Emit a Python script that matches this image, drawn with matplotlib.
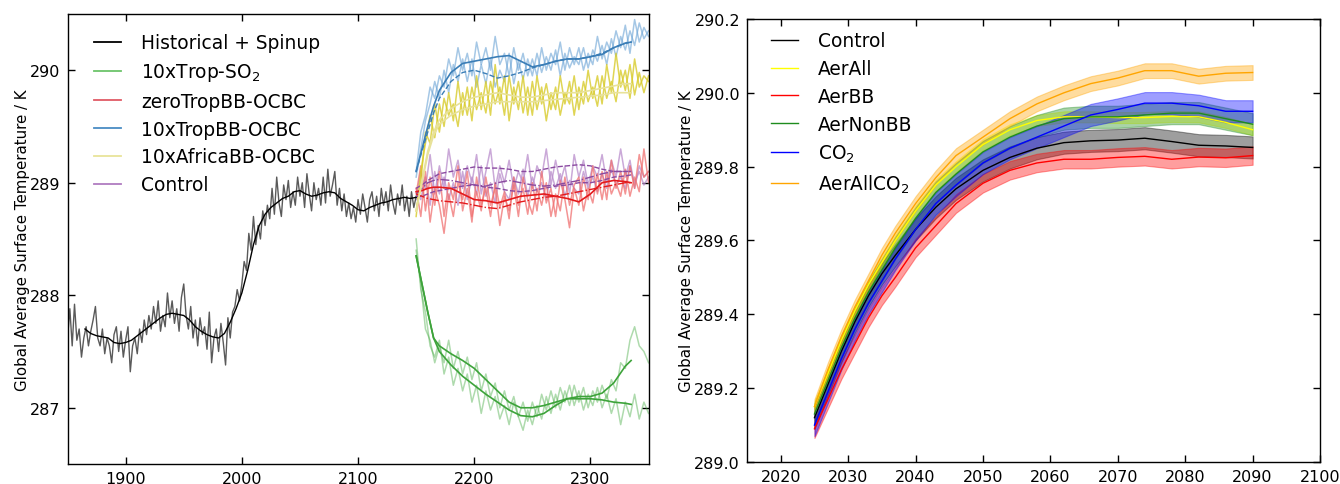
#!/usr/bin/env python3
"""
Global average surface temperature: historical + spinup with perturbation
experiments (left), and ensemble means with spread for the 2025-2090 runs (right).

Output: out.png
"""
import matplotlib
matplotlib.use("Agg")
import matplotlib.pyplot as plt
from matplotlib.lines import Line2D
import numpy as np

plt.rcParams["font.family"] = ["DejaVu Sans"]
plt.rcParams["mathtext.fontset"] = "dejavusans"

# ---- left panel data ---------------------------------------------------------
HIST_YEARS = np.arange(1850, 2151, 2)
HIST_RAW = [
    287.62, 287.88, 287.55, 287.92, 287.60,   # 1850s
    287.70, 287.45, 287.62, 287.72, 287.55,
    287.68, 287.78, 287.90, 287.62, 287.55,
    287.70, 287.48, 287.62, 287.55, 287.40,
    287.65, 287.72, 287.50, 287.68, 287.45,
    287.60, 287.72, 287.32, 287.55, 287.62,   # 1900s
    287.48, 287.70, 287.58, 287.78, 287.65,
    287.82, 287.70, 287.90, 287.75, 287.95,
    287.68, 287.82, 287.72, 288.02, 287.80,
    287.95, 287.75, 287.88, 287.68, 287.98,
    288.10, 287.82, 287.70, 287.90, 287.62,   # 1950s
    287.78, 287.55, 287.80, 287.65, 287.72,
    287.52, 287.85, 287.40, 287.62, 287.70,
    287.50, 287.75, 287.58, 287.38, 287.80,
    287.62, 287.85, 287.90, 288.05, 287.95,
    288.10, 288.30, 288.22, 288.55, 288.40,   # 2000s
    288.70, 288.45, 288.62, 288.50, 288.75,
    288.62, 288.80, 288.68, 288.95, 288.72,
    289.05, 288.82, 288.70, 288.98, 288.85,
    289.02, 288.78, 288.92, 288.80, 289.05,
    288.88, 289.00, 288.78, 289.08, 288.90,   # 2050s
    288.75, 289.00, 288.85, 288.95, 288.80,
    289.05, 288.82, 289.12, 288.88, 288.98,
    289.10, 288.80, 288.95, 288.75, 288.90,
    288.70, 288.82, 288.68, 288.78, 288.65,
    288.85, 288.72, 288.90, 288.78, 288.65,   # 2100s
    288.85, 288.92, 288.75, 288.88, 288.70,
    288.95, 288.80, 288.92, 288.75, 288.98,
    288.82, 288.72, 288.90, 288.80, 288.98,
    288.75, 288.88, 288.70, 288.92, 288.78,
    288.88,
]
HIST_SMOOTH_YEARS = np.arange(1865, 2151, 5)
HIST_SMOOTH = [
    287.70, 287.66, 287.64, 287.63, 287.62, 287.58, 287.57, 287.58,
    287.60, 287.64, 287.68, 287.72, 287.76, 287.80, 287.83, 287.84, 287.83, 287.82,
    287.78, 287.72, 287.68, 287.65, 287.63, 287.62, 287.66, 287.76, 287.88, 288.02,
    288.22, 288.45, 288.62, 288.72, 288.78, 288.82, 288.86, 288.88, 288.92, 288.93,
    288.90, 288.88, 288.89, 288.91, 288.92, 288.91, 288.86, 288.83, 288.80, 288.76,
    288.75, 288.78, 288.80, 288.82, 288.83, 288.85, 288.86, 288.87, 288.86, 288.87,
]

EXP_YEARS = np.arange(2150, 2351, 4)
SMOOTH_YEARS = [2150, 2155, 2160, 2165, 2170, 2180, 2190, 2200, 2210, 2220, 2230,
                2240, 2250, 2260, 2270, 2280, 2290, 2300, 2310, 2320, 2330, 2335]

SO2_RAW_1 = [
    288.50, 288.05, 287.85, 287.55, 287.45, 287.60, 287.30, 287.45, 287.20, 287.35,
    287.15, 287.30, 287.05, 287.20, 286.95, 287.15, 286.98, 287.10, 286.90, 287.02,
    286.85, 287.05, 286.92, 286.80, 286.98, 286.85, 287.02, 286.90, 287.10, 286.95,
    287.12, 286.98, 287.15, 287.02, 287.20, 287.05, 287.18, 287.00, 287.15, 287.05,
    287.20, 287.08, 287.25, 287.15, 287.40, 287.35, 287.60, 287.72, 287.55, 287.50,
    287.40,
]
SO2_RAW_2 = [
    288.40, 288.10, 287.70, 287.60, 287.40, 287.55, 287.40, 287.60, 287.35, 287.50,
    287.30, 287.45, 287.25, 287.40, 287.15, 287.30, 287.10, 287.22, 287.00, 287.15,
    286.98, 287.10, 286.92, 287.05, 286.88, 287.05, 286.92, 287.12, 286.98, 287.15,
    287.00, 287.18, 287.05, 287.20, 287.02, 287.15, 286.98, 287.12, 287.02, 287.18,
    287.00, 287.12, 286.95, 287.08, 286.85, 287.05, 286.92, 287.12, 286.90, 287.05,
    286.95,
]
SO2_SMOOTH_1 = [288.35, 288.10, 287.85, 287.62, 287.50, 287.38, 287.28, 287.20, 287.12,
                287.05, 286.98, 286.93, 286.92, 286.95, 287.02, 287.08, 287.10, 287.10,
                287.13, 287.22, 287.37, 287.42]
SO2_SMOOTH_2 = [288.35, 288.10, 287.85, 287.62, 287.55, 287.48, 287.42, 287.35, 287.25,
                287.15, 287.05, 287.00, 287.00, 287.02, 287.05, 287.08, 287.08, 287.08,
                287.07, 287.05, 287.04, 287.03]

ZERO_RAW_1 = [
    288.90, 289.15, 288.75, 289.05, 288.80, 289.10, 288.70, 289.00, 288.85, 289.15,
    288.75, 288.95, 288.65, 289.05, 288.80, 288.95, 288.70, 289.00, 288.78, 288.92,
    288.68, 289.05, 288.80, 288.95, 288.72, 289.00, 288.75, 289.10, 288.82, 288.95,
    288.70, 289.02, 288.85, 288.60, 288.95, 288.80, 289.05, 288.85, 289.15, 288.90,
    289.10, 288.85, 289.20, 288.95, 289.10, 288.90, 289.15, 288.95, 289.25, 289.05,
    289.10,
]
ZERO_RAW_2 = [
    288.95, 288.70, 289.10, 288.65, 288.95, 288.80, 288.55, 288.90, 288.70, 289.00,
    288.85, 289.10, 288.70, 288.92, 288.75, 289.05, 288.80, 288.95, 288.62, 288.88,
    288.75, 288.98, 288.70, 289.05, 288.85, 288.72, 288.95, 288.80, 289.00, 288.70,
    288.90, 288.75, 289.05, 288.80, 288.98, 289.05, 288.75, 288.95, 288.82, 289.08,
    288.85, 289.10, 288.90, 289.00, 288.88, 289.12, 288.88, 289.05, 288.92, 289.30,
    289.00,
]
ZERO_SMOOTH_1 = [288.92, 288.93, 288.95, 288.96, 288.96, 288.95, 288.90, 288.85, 288.84,
                 288.82, 288.85, 288.88, 288.89, 288.90, 288.88, 288.86, 288.83, 288.90,
                 289.00, 289.02, 289.01, 289.00]
ZERO_SMOOTH_2 = [288.90, 288.88, 288.86, 288.85, 288.84, 288.83, 288.82, 288.80, 288.78,
                 288.77, 288.80, 288.83, 288.85, 288.87, 288.88, 288.90, 288.92, 288.94,
                 288.96, 288.98, 289.00, 289.00]

TROP_RAW_1 = [
    289.10, 289.45, 289.60, 289.85, 289.75, 289.95, 289.85, 290.10, 289.95, 290.20,
    290.00, 290.15, 289.95, 290.25, 290.05, 290.20, 290.00, 290.30, 290.05, 290.15,
    289.95, 290.20, 290.00, 290.15, 289.95, 290.10, 289.95, 290.20, 290.00, 290.15,
    290.05, 290.25, 290.00, 290.20, 290.05, 290.20, 290.00, 290.15, 290.05, 290.30,
    290.10, 290.25, 290.15, 290.35, 290.20, 290.40, 290.15, 290.45, 290.25, 290.38,
    290.30,
]
TROP_RAW_2 = [
    289.05, 289.30, 289.55, 289.70, 289.90, 289.75, 290.00, 289.80, 290.05, 289.90,
    290.10, 289.90, 290.10, 289.85, 290.05, 289.88, 290.10, 289.85, 290.00, 289.90,
    290.15, 289.88, 290.08, 289.92, 290.10, 289.95, 290.15, 289.98, 290.12, 290.00,
    290.18, 289.95, 290.15, 290.02, 290.12, 290.05, 290.20, 290.02, 290.18, 290.08,
    290.22, 290.05, 290.28, 290.12, 290.30, 290.18, 290.35, 290.22, 290.42, 290.28,
    290.35,
]
TROP_SMOOTH_1 = [289.10, 289.30, 289.50, 289.68, 289.82, 289.98, 290.06, 290.08, 290.10,
                 290.12, 290.13, 290.08, 290.03, 290.05, 290.08, 290.10, 290.10, 290.12,
                 290.14, 290.20, 290.24, 290.25]
TROP_SMOOTH_2 = [289.10, 289.28, 289.45, 289.62, 289.75, 289.90, 289.98, 290.00, 289.97,
                 289.93, 289.95, 289.98, 290.02, 290.05, 290.08, 290.10, 290.10, 290.12,
                 290.15, 290.20, 290.24, 290.25]

AFR_RAW_1 = [
    288.70, 289.10, 289.35, 289.60, 289.40, 289.70, 289.50, 289.80, 289.55, 289.90,
    289.60, 289.85, 289.55, 289.95, 289.65, 289.90, 289.60, 290.05, 289.70, 289.95,
    289.55, 289.85, 289.65, 289.95, 289.60, 289.90, 289.65, 289.85, 289.55, 289.80,
    289.65, 289.95, 289.70, 289.90, 289.60, 289.85, 289.70, 290.00, 289.75, 289.95,
    289.70, 290.05, 289.80, 290.15, 289.85, 290.00, 289.75, 290.10, 289.85, 289.95,
    289.90,
]
AFR_RAW_2 = [
    288.75, 289.00, 289.45, 289.35, 289.70, 289.45, 289.75, 289.60, 289.70, 289.50,
    289.80, 289.60, 289.85, 289.65, 289.80, 289.62, 289.90, 289.70, 289.85, 289.60,
    289.95, 289.70, 289.90, 289.62, 289.85, 289.60, 289.95, 289.70, 289.88, 289.65,
    289.85, 289.60, 289.80, 289.70, 289.95, 289.65, 289.90, 289.72, 289.85, 289.68,
    289.95, 289.75, 289.90, 289.72, 290.00, 289.82, 290.05, 289.78, 289.98, 289.80,
    289.95,
]
AFR_SMOOTH_1 = [288.75, 289.00, 289.25, 289.42, 289.52, 289.60, 289.65, 289.68, 289.70,
                289.72, 289.72, 289.72, 289.72, 289.73, 289.74, 289.75, 289.76, 289.77,
                289.78, 289.80, 289.80, 289.80]
AFR_SMOOTH_2 = [288.75, 289.02, 289.28, 289.45, 289.56, 289.66, 289.72, 289.76, 289.78,
                289.80, 289.78, 289.76, 289.76, 289.78, 289.80, 289.80, 289.80, 289.82,
                289.84, 289.86, 289.88, 289.88]

CTL_RAW_1 = [
    288.85, 289.10, 288.95, 289.25, 288.90, 289.15, 288.95, 289.30, 289.05, 289.20,
    288.95, 289.15, 289.00, 289.25, 288.90, 289.10, 289.30, 288.95, 289.15, 289.00,
    289.20, 288.95, 289.10, 289.00, 289.25, 288.95, 289.15, 289.05, 289.30, 288.98,
    289.20, 289.00, 289.15, 288.90, 289.25, 289.05, 289.20, 288.98, 289.15, 289.05,
    289.25, 289.00, 289.20, 289.05, 289.30, 289.05, 289.20, 288.95, 289.15, 289.05,
    289.10,
]
CTL_RAW_2 = [
    288.95, 288.85, 289.05, 288.80, 289.10, 288.90, 289.05, 288.85, 289.00, 288.80,
    289.10, 288.85, 289.05, 288.90, 289.15, 288.88, 289.00, 288.82, 289.08, 288.92,
    288.85, 289.05, 288.90, 289.12, 288.88, 289.05, 288.92, 289.00, 288.85, 289.10,
    288.95, 289.08, 288.88, 289.02, 288.95, 288.90, 289.10, 288.95, 289.05, 288.92,
    289.08, 288.95, 289.12, 288.98, 289.05, 288.95, 289.15, 289.00, 289.10, 288.98,
    289.05,
]
CTL_SMOOTH_1 = [288.95, 288.98, 289.02, 289.05, 289.08, 289.10, 289.12, 289.14, 289.13,
                289.13, 289.12, 289.10, 289.10, 289.12, 289.14, 289.15, 289.16, 289.15,
                289.12, 289.10, 289.10, 289.10]
CTL_SMOOTH_2 = [288.90, 288.95, 289.00, 289.02, 289.03, 289.02, 289.00, 288.98, 288.97,
                289.00, 289.02, 289.00, 288.98, 288.97, 288.98, 289.00, 289.02, 289.05,
                289.08, 289.10, 289.10, 289.10]
CTL_SMOOTH_3 = [288.88, 288.88, 288.90, 288.92, 288.93, 288.95, 288.97, 288.98, 288.96,
                288.95, 288.93, 288.92, 288.93, 288.95, 288.97, 288.98, 289.00, 289.00,
                289.02, 289.05, 289.06, 289.07]

LEFT_LABELS = ["Historical + Spinup", "10xTrop-SO$_2$", "zeroTropBB-OCBC",
               "10xTropBB-OCBC", "10xAfricaBB-OCBC", "Control"]

# ---- right panel data --------------------------------------------------------
R_YEARS = [2025, 2027, 2029, 2031, 2033, 2035, 2037, 2040, 2043, 2046, 2050,
           2054, 2058, 2062, 2066, 2070, 2074, 2078, 2082, 2086, 2090]
R_CONTROL = [289.12, 289.21, 289.30, 289.38, 289.45, 289.51, 289.56, 289.63, 289.69,
             289.74, 289.79, 289.825, 289.85, 289.865, 289.87, 289.872, 289.877,
             289.868, 289.858, 289.856, 289.852]
R_AERALL = [289.15, 289.24, 289.33, 289.41, 289.48, 289.54, 289.60, 289.68, 289.75,
            289.80, 289.86, 289.90, 289.925, 289.935, 289.935, 289.933, 289.933,
            289.936, 289.935, 289.92, 289.90]
R_AERBB = [289.09, 289.17, 289.25, 289.32, 289.39, 289.45, 289.50, 289.58, 289.64,
           289.70, 289.755, 289.79, 289.81, 289.82, 289.82, 289.825, 289.828,
           289.82, 289.826, 289.824, 289.83]
R_AERNONBB = [289.13, 289.22, 289.31, 289.39, 289.46, 289.52, 289.58, 289.66, 289.73,
              289.78, 289.84, 289.88, 289.91, 289.93, 289.935, 289.935, 289.94,
              289.945, 289.945, 289.93, 289.915]
R_CO2 = [289.10, 289.19, 289.28, 289.36, 289.43, 289.49, 289.55, 289.63, 289.70,
         289.75, 289.81, 289.85, 289.88, 289.91, 289.94, 289.955, 289.972, 289.972,
         289.965, 289.95, 289.95]
R_AERALLCO2 = [289.15, 289.25, 289.34, 289.42, 289.49, 289.56, 289.62, 289.70, 289.77,
               289.83, 289.88, 289.93, 289.97, 290.00, 290.025, 290.04, 290.06, 290.06,
               290.045, 290.053, 290.055]
R_LABELS = ["Control", "AerAll", "AerBB", "AerNonBB", "CO$_2$", "AerAllCO$_2$"]
R_SPREAD = [0.03, 0.015, 0.025, 0.03, 0.03, 0.02]

# ---- styles ------------------------------------------------------------------
GREEN, RED, BLUE, YELLOW, PURPLE = "#4daf4a", "#f07070", "#6aa3d5", "#d8cb2a", "#b98ccb"
R_COLORS = ["black", "#ffff00", "#ff0000", "#1e8c1e", "#0000ff", "#ffa500"]
LEG_KW = dict(loc="upper left", frameon=False, fontsize=13.4, borderpad=0,
              borderaxespad=0, handlelength=1.45, handletextpad=1.07, labelspacing=0.47)


def style_axes(ax):
    ax.tick_params(direction="in", top=True, right=True, length=5, width=1,
                   labelsize=11.5, pad=5)
    for sp in ax.spines.values():
        sp.set_linewidth(1.0)
    ax.set_ylabel("Global Average Surface Temperature / K", fontsize=10.8, labelpad=0)


fig = plt.figure(figsize=(13.4, 4.85), dpi=100)

# ---- left panel --------------------------------------------------------------
ax1 = fig.add_axes([0.0504, 0.0412, 0.4336, 0.928])
raws = [
    (CTL_RAW_1, CTL_RAW_2, PURPLE, 0.75),
    (ZERO_RAW_1, ZERO_RAW_2, RED, 0.75),
    (TROP_RAW_1, TROP_RAW_2, BLUE, 0.6),
    (AFR_RAW_1, AFR_RAW_2, YELLOW, 0.8),
    (SO2_RAW_1, SO2_RAW_2, GREEN, 0.45),
]
for r1, r2, col, a in raws:
    ax1.plot(EXP_YEARS, r1, color=col, lw=1.1, alpha=a)
    ax1.plot(EXP_YEARS, r2, color=col, lw=1.1, alpha=a)

ax1.plot(HIST_YEARS, HIST_RAW, color="#5a5a5a", lw=1.0)
ax1.plot(HIST_SMOOTH_YEARS, HIST_SMOOTH, color="black", lw=1.0)

ax1.plot(SMOOTH_YEARS, CTL_SMOOTH_1, color="#8a4aa0", lw=1.0, ls="--")
ax1.plot(SMOOTH_YEARS, CTL_SMOOTH_2, color="#8a4aa0", lw=1.0, ls="-.")
ax1.plot(SMOOTH_YEARS, CTL_SMOOTH_3, color="#8a4aa0", lw=1.0, ls="--")
ax1.plot(SMOOTH_YEARS, ZERO_SMOOTH_2, color="#e41a1c", lw=1.0, ls="-.")
ax1.plot(SMOOTH_YEARS, ZERO_SMOOTH_1, color="#e41a1c", lw=1.2)
ax1.plot(SMOOTH_YEARS, TROP_SMOOTH_2, color="#3a7db6", lw=1.0, ls="--")
ax1.plot(SMOOTH_YEARS, TROP_SMOOTH_1, color="#3a7db6", lw=1.2)
ax1.plot(SMOOTH_YEARS, AFR_SMOOTH_1, color="#e8e29a", lw=1.2)
ax1.plot(SMOOTH_YEARS, AFR_SMOOTH_2, color="#e8e29a", lw=1.2)
ax1.plot(SMOOTH_YEARS, SO2_SMOOTH_1, color="#3da33a", lw=1.2)
ax1.plot(SMOOTH_YEARS, SO2_SMOOTH_2, color="#3da33a", lw=1.2)

ax1.set_xlim(1850, 2350)
ax1.set_ylim(286.5, 290.5)
ax1.set_xticks([1900, 2000, 2100, 2200, 2300])
ax1.set_yticks([287, 288, 289, 290])
style_axes(ax1)

left_handles = [Line2D([], [], color=c, lw=1.3) for c in
                ["black", "#6cc46a", "#e05a66", "#4a8cc4", "#e8e49a", "#b07cc0"]]
ax1.legend(left_handles, LEFT_LABELS, bbox_to_anchor=(0.046, 0.957), **LEG_KW)

# ---- right panel -------------------------------------------------------------
ax2 = fig.add_axes([0.5575, 0.0454, 0.4276, 0.9134])
series = [R_CONTROL, R_AERALL, R_AERBB, R_AERNONBB, R_CO2, R_AERALLCO2]
for vals, col, spread, lab in zip(series, R_COLORS, R_SPREAD, R_LABELS):
    v = np.array(vals)
    ax2.fill_between(R_YEARS, v - spread, v + spread, color=col, alpha=0.38, lw=0.8)
    ax2.plot(R_YEARS, v, color=col, lw=1.0, label=lab)

ax2.set_xlim(2015, 2100)
ax2.set_ylim(289.0, 290.2)
ax2.set_xticks(np.arange(2020, 2101, 10))
ax2.set_yticks(np.arange(289.0, 290.21, 0.2))
ax2.yaxis.set_major_formatter(matplotlib.ticker.FormatStrFormatter("%.1f"))
style_axes(ax2)
ax2.legend(bbox_to_anchor=(0.042, 0.972), **LEG_KW)

fig.savefig("out.png", dpi=100)
print("wrote out.png")
